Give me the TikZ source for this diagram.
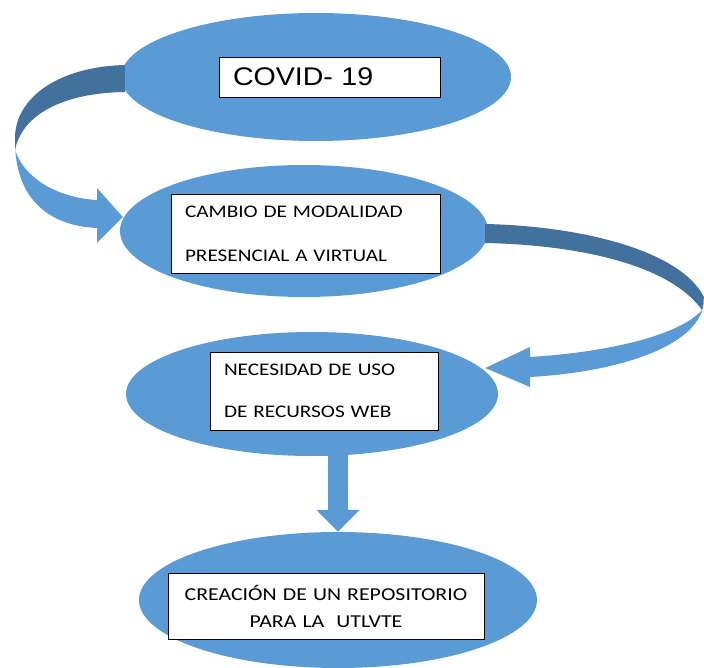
\documentclass[tikz,border=0pt]{standalone}
\usepackage{fontspec}
\setmainfont{Carlito}[FakeStretch=1.2, WordSpace=0.3]
\newfontfamily\arialfont{Liberation Sans}[FakeStretch=1.12]
\usetikzlibrary{arrows.meta, calc, positioning, shapes.geometric}
\definecolor{ovalblue}{RGB}{91,155,213}
\definecolor{ribbondark}{RGB}{65,113,156}

\begin{document}
\begin{tikzpicture}[
    x=1pt, y=-1pt,
    oval/.style={ellipse, fill=ovalblue, inner sep=0pt},
    textbox/.style={draw=black, line width=0.8pt, fill=white, rectangle, inner xsep=14pt, inner ysep=0pt, align=left},
    ribbon/.style={fill=ovalblue},
    ribbonback/.style={fill=ribbondark},
    downarrow/.style={draw=ovalblue, line width=20pt, -{Triangle[width=42pt, length=22pt]}}
]
\useasboundingbox (0,0) rectangle (704,668);

% Ovals
\node[oval, minimum width=390pt, minimum height=128pt] (cov) at (316,77) {};
\node[oval, minimum width=368pt, minimum height=132pt] (camb) at (304,231) {};
\node[oval, minimum width=372pt, minimum height=124pt] (nece) at (312,394) {};
\node[oval, minimum width=398pt, minimum height=136pt] (crea) at (338,600) {};

% Text boxes
\node[textbox, minimum width=221pt, minimum height=40pt, text width=193pt, font=\arialfont\fontsize{25.5}{30}\selectfont] (covtxt) at (329.5,77) {COVID- 19};
\node[textbox, minimum width=269pt, minimum height=79pt, text width=241pt, font=\fontsize{17.7}{44}\selectfont] (cambtxt) at (305.5,233.5) {CAMBIO DE MODALIDAD\\PRESENCIAL A VIRTUAL};
\node[textbox, minimum width=228pt, minimum height=78pt, text width=200pt, font=\fontsize{17.7}{42}\selectfont] (necetxt) at (324,391) {NECESIDAD DE USO\\DE RECURSOS WEB};
\node[textbox, minimum width=316pt, minimum height=66pt, text width=288pt, align=center, font=\fontsize{18.2}{27}\selectfont] (creatxt) at (326,606) {CREACIÓN DE UN REPOSITORIO\\PARA LA\ \ UTLVTE};

% Curved arrow: COVID -> cambio
\fill[ribbon] (15,138) .. controls (14,200) and (50,226) .. (97,228) -- (97,243)
    -- ($(camb.west)+(3,-14)$) -- (97,188) -- (97,200)
    .. controls (60,198) and (25,180) .. (15,150) -- cycle;
\fill[ribbonback] ($(cov.west)+(4,-12)$) .. controls (55,67) and (15,100) .. (15,138)
    -- (15,150) .. controls (22,115) and (62,93) .. ($(cov.west)+(4,15)$) -- cycle;

% Curved arrow: cambio -> necesidad
\fill[ribbon] (704,299) .. controls (704,345) and (620,372) .. (530,377) -- (530,387)
    -- ($(nece.east)+(-13,-26)$) -- (530,347) -- (530,357)
    .. controls (610,352) and (680,335) .. (702,310) -- cycle;
\fill[ribbonback] ($(camb.east)+(-3,-7)$) .. controls (580,226) and (680,250) .. (704,297)
    -- (702,310) .. controls (670,265) and (580,245) .. ($(camb.east)+(-3,12)$) -- cycle;

% Straight arrow: necesidad -> creacion
\draw[downarrow] ($(crea.north |- nece.south)+(0,-4)$) -- (crea.north);

\end{tikzpicture}
\end{document}
